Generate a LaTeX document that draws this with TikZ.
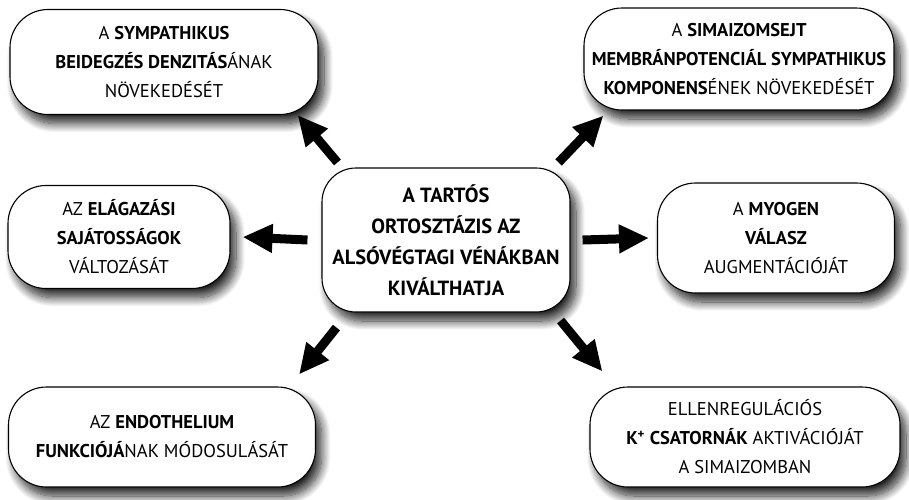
\documentclass[tikz,border=0pt]{standalone}
\usepackage{fontspec}
\setmainfont{PT Sans}
\usepackage{tikz}
\usetikzlibrary{positioning, arrows.meta, calc, shadows.blur}

\begin{document}
\begin{tikzpicture}[
                x=1pt, y=-1pt,
                effect/.style={draw=black, line width=1.1pt, fill=white, rectangle, rounded corners=38pt, align=center, font=\fontsize{18.5}{29}\selectfont, inner sep=0pt,
                    blur shadow={shadow xshift=6pt, shadow yshift=-9pt, shadow blur steps=14, shadow blur radius=9pt, shadow opacity=85}},
                cause/.style={effect, rounded corners=34pt, font=\bfseries\fontsize{20.5}{31}\selectfont},
                push/.style={line width=9pt, -{Triangle[length=30pt, width=27pt]}}
            ]
            \useasboundingbox (0,0) rectangle (909,499);

            % Dobozok
            \node[cause, minimum width=248pt, minimum height=144pt] (mid) at (446,240) {A TARTÓS\\ORTOSZTÁZIS AZ\\ALSÓVÉGTAGI VÉNÁKBAN\\KIVÁLTHATJA};
            \node[effect, minimum width=308pt, minimum height=105pt] (tl) at (164,62) {A \textbf{SYMPATHIKUS}\\\textbf{BEIDEGZÉS DENZITÁS}ÁNAK\\NÖVEKEDÉSÉT};
            \node[effect, minimum width=310pt, minimum height=102pt] (tr) at (739,59) {A \textbf{SIMAIZOMSEJT}\\\textbf{MEMBRÁNPOTENCIÁL SYMPATHIKUS}\\\textbf{KOMPONENS}ÉNEK NÖVEKEDÉSÉT};
            \node[effect, minimum width=222pt, minimum height=103pt] (ml) at (119,237) {AZ \textbf{ELÁGAZÁSI}\\\textbf{SAJÁTOSSÁGOK}\\VÁLTOZÁSÁT};
            \node[effect, minimum width=237pt, minimum height=110pt] (mr) at (776,238) {A \textbf{MYOGEN}\\\textbf{VÁLASZ}\\AUGMENTÁCIÓJÁT};
            \node[effect, minimum width=307pt, minimum height=100pt] (bl) at (162,437) {AZ \textbf{ENDOTHELIUM}\\\textbf{FUNKCIÓJÁ}NAK MÓDOSULÁSÁT};
            \node[effect, minimum width=310pt, minimum height=100pt] (br) at (745,437) {ELLENREGULÁCIÓS\\\textbf{K\textsuperscript{+} CSATORNÁK} AKTIVÁCIÓJÁT\\A SIMAIZOMBAN};

            % Nyilak
            \draw[push] ([shift={(16,-5)}]mid.north west) -- ([shift={(-21,0)}]tl.south east);
            \draw[push] ([shift={(-12,-5)}]mid.north east) -- ([shift={(20,5)}]tr.south west);
            \draw[push] ([shift={(-14,0)}]mid.west) -- ([shift={(12,0)}]ml.east);
            \draw[push] ([shift={(12,0)}]mid.east) -- ([shift={(-8,0)}]mr.west);
            \draw[push] ([shift={(15,15)}]mid.south west) -- ([shift={(-17,-12)}]bl.north east);
            \draw[push] ([shift={(-10,8)}]mid.south east) -- ([shift={(13,-15)}]br.north west);

        \end{tikzpicture}
\end{document}
